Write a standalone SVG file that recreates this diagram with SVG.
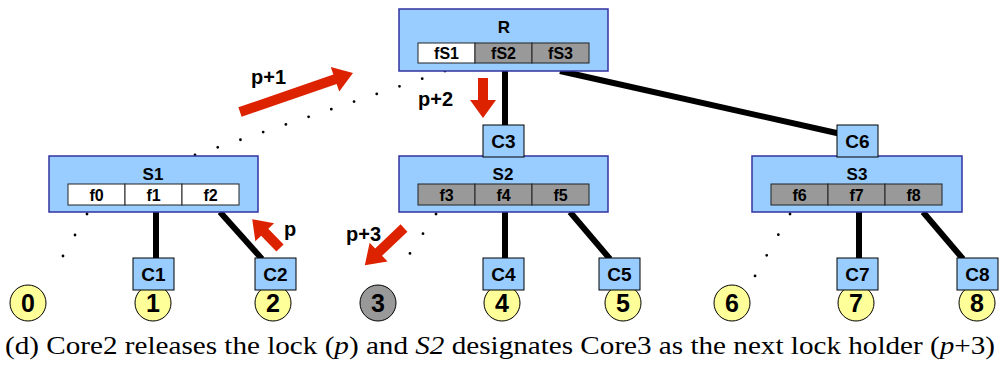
<svg xmlns="http://www.w3.org/2000/svg" width="999" height="365" viewBox="0 0 999 365">
<style>
.nb{fill:#99ccff;stroke:#3333a0;stroke-width:1.5}
.cb{fill:#99ccff;stroke:#000;stroke-width:1}
.fw{fill:#fff;stroke:#222;stroke-width:1}
.fg{fill:#999;stroke:#222;stroke-width:1}
.ci{fill:#ffff99;stroke:#000;stroke-width:1}
.cg{fill:#999;stroke:#000;stroke-width:1}
.t{font-family:"Liberation Sans",Arial,sans-serif;font-weight:bold;text-anchor:middle;fill:#000}
.tt{font-size:17px}
.tf{font-size:16px}
.tc{font-size:19px}
.tn{font-size:25px}
.tl{font-size:20px;font-family:"Liberation Sans",Arial,sans-serif;font-weight:bold;fill:#000}
.solid{stroke:#000;stroke-width:6;fill:none}
.dot{stroke:#000;stroke-width:2.8;stroke-linecap:round;fill:none}
.red{fill:#dd2200}
</style>
<g id="connectors">
<line class="solid" x1="505" y1="71" x2="505" y2="126"/>
<line class="solid" x1="560" y1="71" x2="850" y2="136"/>
<line class="solid" x1="156" y1="212" x2="156" y2="259"/>
<line class="solid" x1="220" y1="212" x2="262" y2="259"/>
<line class="solid" x1="505" y1="212" x2="505" y2="259"/>
<line class="solid" x1="570" y1="212" x2="610" y2="259"/>
<line class="solid" x1="859" y1="212" x2="859" y2="259"/>
<line class="solid" x1="923" y1="212" x2="963" y2="259"/>
<line class="dot" x1="195" y1="155" x2="445" y2="71" stroke-dasharray="0 23.97"/>
<line class="dot" x1="87" y1="214" x2="51" y2="277" stroke-dasharray="0 24.2"/>
<line class="dot" x1="436" y1="214" x2="397" y2="273" stroke-dasharray="0 23.6"/>
<line class="dot" x1="790" y1="214" x2="755" y2="276" stroke-dasharray="0 23.7"/>
</g>
<g id="core0"><circle class="ci" cx="28" cy="303" r="18"/><text class="t tn" x="28" y="312">0</text></g>
<g id="core1"><circle class="ci" cx="153" cy="303" r="18"/><text class="t tn" x="153" y="312">1</text></g>
<g id="core2"><circle class="ci" cx="273" cy="303" r="18"/><text class="t tn" x="273" y="312">2</text></g>
<g id="core3"><circle class="cg" cx="378" cy="303" r="18"/><text class="t tn" x="378" y="312">3</text></g>
<g id="core4"><circle class="ci" cx="502" cy="303" r="18"/><text class="t tn" x="502" y="312">4</text></g>
<g id="core5"><circle class="ci" cx="623" cy="303" r="18"/><text class="t tn" x="623" y="312">5</text></g>
<g id="core6"><circle class="ci" cx="732" cy="303" r="18"/><text class="t tn" x="732" y="312">6</text></g>
<g id="core7"><circle class="ci" cx="856" cy="303" r="18"/><text class="t tn" x="856" y="312">7</text></g>
<g id="core8"><circle class="ci" cx="977" cy="303" r="18"/><text class="t tn" x="977" y="312">8</text></g>
<g id="R">
<rect class="nb" x="399" y="9" width="209" height="62"/>
<text class="t tt" x="504" y="33">R</text>
<rect class="fw" x="418" y="43" width="57" height="20"/>
<rect class="fg" x="475" y="43" width="57" height="20"/>
<rect class="fg" x="532" y="43" width="57" height="20"/>
<text class="t tf" x="446.5" y="59">fS1</text>
<text class="t tf" x="503.5" y="59">fS2</text>
<text class="t tf" x="560.5" y="59">fS3</text>
</g>
<g id="S1">
<rect class="nb" x="49" y="156" width="209" height="56"/>
<text class="t tt" x="153" y="180">S1</text>
<rect class="fw" x="68" y="184" width="57" height="21"/>
<rect class="fw" x="125" y="184" width="57" height="21"/>
<rect class="fw" x="182" y="184" width="57" height="21"/>
<text class="t tf" x="96.5" y="201">f0</text>
<text class="t tf" x="153.5" y="201">f1</text>
<text class="t tf" x="210.5" y="201">f2</text>
</g>
<g id="S2">
<rect class="nb" x="399" y="156" width="209" height="56"/>
<text class="t tt" x="503" y="180">S2</text>
<rect class="fg" x="418" y="184" width="57" height="21"/>
<rect class="fg" x="475" y="184" width="57" height="21"/>
<rect class="fg" x="532" y="184" width="57" height="21"/>
<text class="t tf" x="446.5" y="201">f3</text>
<text class="t tf" x="503.5" y="201">f4</text>
<text class="t tf" x="560.5" y="201">f5</text>
</g>
<g id="S3">
<rect class="nb" x="752" y="156" width="210" height="56"/>
<text class="t tt" x="857" y="180">S3</text>
<rect class="fg" x="771" y="184" width="57" height="21"/>
<rect class="fg" x="828" y="184" width="57" height="21"/>
<rect class="fg" x="885" y="184" width="57" height="21"/>
<text class="t tf" x="799.5" y="201">f6</text>
<text class="t tf" x="856.5" y="201">f7</text>
<text class="t tf" x="913.5" y="201">f8</text>
</g>
<g id="C1"><rect class="cb" x="133" y="258" width="41" height="32"/><text class="t tc" x="153.5" y="281">C1</text></g>
<g id="C2"><rect class="cb" x="255" y="258" width="41" height="32"/><text class="t tc" x="275.5" y="281">C2</text></g>
<g id="C3"><rect class="cb" x="483" y="125" width="41" height="32"/><text class="t tc" x="503.5" y="148">C3</text></g>
<g id="C4"><rect class="cb" x="483" y="258" width="41" height="32"/><text class="t tc" x="503.5" y="281">C4</text></g>
<g id="C5"><rect class="cb" x="599" y="258" width="41" height="32"/><text class="t tc" x="619.5" y="281">C5</text></g>
<g id="C6"><rect class="cb" x="837" y="125" width="41" height="32"/><text class="t tc" x="857.5" y="148">C6</text></g>
<g id="C7"><rect class="cb" x="837" y="258" width="41" height="32"/><text class="t tc" x="857.5" y="281">C7</text></g>
<g id="C8"><rect class="cb" x="957" y="258" width="41" height="32"/><text class="t tc" x="977.5" y="281">C8</text></g>
<g id="annotations">
<path class="red" transform="translate(240,112) rotate(-19.04)" d="M0,-5 L100.5,-5 L100.5,-13 L119.5,0 L100.5,13 L100.5,5 L0,5 Z"/>
<text class="tl" x="251" y="84">p+1</text>
<path class="red" transform="translate(483,78) rotate(90)" d="M0,-5 L22,-5 L22,-13 L40,0 L22,13 L22,5 L0,5 Z"/>
<text class="tl" x="418" y="106">p+2</text>
<path class="red" transform="translate(280,248) rotate(-134)" d="M0,-5 L22,-5 L22,-13 L40,0 L22,13 L22,5 L0,5 Z"/>
<text class="tl" x="284" y="236">p</text>
<path class="red" transform="translate(404,228) rotate(136.5)" d="M0,-5 L35,-5 L35,-13 L54,0 L35,13 L35,5 L0,5 Z"/>
<text class="tl" x="346" y="241">p+3</text>
</g>
<text x="5" y="354" textLength="990" lengthAdjust="spacingAndGlyphs" style="font-family:'Liberation Serif','Times New Roman',serif;font-size:25px;fill:#000">(d) Core2 releases the lock (<tspan font-style="italic">p</tspan>) and <tspan font-style="italic">S2</tspan> designates Core3 as the next lock holder (<tspan font-style="italic">p</tspan>+3)</text>
</svg>
